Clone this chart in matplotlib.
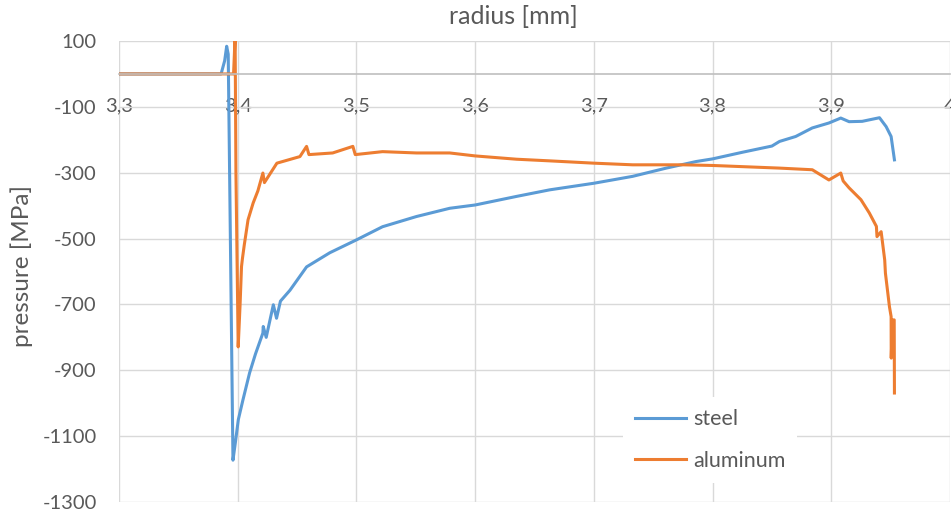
import matplotlib.pyplot as plt
from matplotlib.ticker import FuncFormatter, MultipleLocator

# values (radius in mm, pressure in MPa)
steel_r = [3.300, 3.386, 3.389, 3.3907, 3.392, 3.396, 3.398, 3.4005, 3.4044,
           3.410, 3.4150, 3.4212, 3.4215, 3.4240, 3.4300, 3.4327, 3.4360,
           3.4440, 3.4580, 3.4776, 3.5000, 3.5220, 3.5506, 3.5786, 3.600,
           3.6348, 3.6628, 3.700, 3.7327, 3.761, 3.7862, 3.800, 3.8250,
           3.8500, 3.8564, 3.8700, 3.884, 3.898, 3.908, 3.915, 3.926,
           3.9406, 3.9462, 3.9504, 3.9532]
steel_p = [0, 0, 40, 84, 60, -1173, -1120, -1050, -990,
           -908, -850, -787, -767, -800, -701, -742, -690,
           -657, -586, -543, -504, -464, -433, -408, -398,
           -372, -352, -332, -311, -286, -266, -258, -238,
           -219, -205, -190, -164, -149, -134, -145, -144,
           -133, -160, -190, -261]

alu_r = [3.300, 3.3965, 3.3972, 3.3978, 3.3985, 3.4004, 3.4020, 3.4032,
         3.4040, 3.4055, 3.4087, 3.4130, 3.4170, 3.4212, 3.4225, 3.4330,
         3.4524, 3.4580, 3.4600, 3.4800, 3.4970, 3.4990, 3.5220, 3.5506,
         3.5786, 3.600, 3.6348, 3.6628, 3.700, 3.7327, 3.775, 3.800,
         3.8564, 3.884, 3.898, 3.908, 3.910, 3.915, 3.925, 3.932, 3.938,
         3.9385, 3.942, 3.945, 3.9456, 3.949, 3.9504, 3.9505, 3.9515,
         3.9530, 3.9532]
alu_p = [0, 0, 60, 120, -300, -829, -700, -585,
         -560, -520, -443, -392, -355, -301, -330, -271,
         -251, -220, -245, -240, -220, -245, -236, -240,
         -240, -249, -259, -264, -271, -276, -276, -278,
         -286, -291, -322, -301, -325, -346, -382, -422, -463,
         -494, -479, -565, -605, -707, -737, -863, -747,
         -747, -969]

blue = '#5B9BD5'
orange = '#ED7D31'
grey = '#595959'

plt.rcParams['font.family'] = ['Lato', 'DejaVu Sans']
plt.rcParams['axes.unicode_minus'] = False

fig = plt.figure(figsize=(9.51, 5.14), dpi=100)
ax = fig.add_axes([119/951, 12/514, 831/951, 461/514])

ax.plot(steel_r, steel_p, color=blue, lw=2.2, solid_joinstyle='round', label='steel')
ax.plot(alu_r, alu_p, color=orange, lw=2.2, solid_joinstyle='round', label='aluminum')

ax.set_xlim(3.3, 4.0)
ax.set_ylim(-1300, 100)
ax.xaxis.set_major_locator(MultipleLocator(0.1))
ax.set_yticks(range(100, -1301, -200))
ax.xaxis.set_major_formatter(FuncFormatter(
    lambda v, p: ('%.1f' % v).replace('.', ',').replace('4,0', '4')))

ax.grid(True, color='#D9D9D9', lw=1)
ax.set_axisbelow(True)
for s in ['top', 'right', 'left']:
    ax.spines[s].set_visible(False)
ax.spines['bottom'].set_position(('data', 0))
ax.spines['bottom'].set_color('#BFBFBF')
ax.spines['bottom'].set_linewidth(1.2)
ax.tick_params(axis='both', length=0, labelsize=14.5, labelcolor=grey)
ax.tick_params(axis='x', pad=17)
ax.tick_params(axis='y', pad=16)

fig.text(513/951, 1 - 17/514, 'radius [mm]', ha='center', va='center',
         fontsize=18, color=grey)
fig.text(22/951, 1 - 266/514, 'pressure [MPa]', ha='center', va='center',
         rotation=90, fontsize=17.5, color=grey)

leg = ax.legend(loc='center', bbox_to_anchor=(710/951, 1 - 440/514),
                bbox_transform=fig.transFigure, frameon=True,
                fontsize=15.5, handlelength=2.4, handletextpad=0.3,
                labelspacing=1.0, borderpad=0.55, edgecolor='none',
                fancybox=False)
leg.get_frame().set_facecolor('white')
leg.get_frame().set_alpha(1)
for t in leg.get_texts():
    t.set_color(grey)

plt.savefig('out.png', dpi=100)
